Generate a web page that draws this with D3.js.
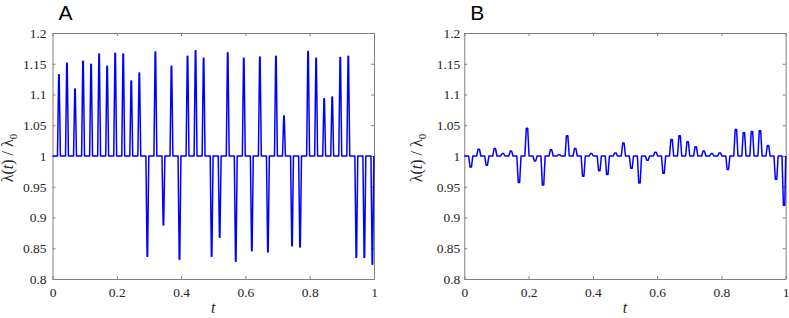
<!DOCTYPE html>
<html>
<head>
<meta charset="utf-8">
<title>lambda ratio</title>
<style>
  body { margin: 0; background: #fff; }
  svg { display: block; }
</style>
</head>
<body>
<div id="container"></div>
<script src="https://d3js.org/d3.v7.min.js"></script>
<script>

// time of each event slot (40 slots)
const slotTimes = [0.02, 0.045, 0.07, 0.095, 0.12, 0.145, 0.17, 0.195, 0.22, 0.245,
                   0.27, 0.295, 0.32, 0.345, 0.37, 0.395, 0.42, 0.445, 0.47, 0.495,
                   0.52, 0.545, 0.57, 0.595, 0.62, 0.645, 0.67, 0.695, 0.72, 0.745,
                   0.77, 0.795, 0.82, 0.845, 0.87, 0.895, 0.92, 0.945, 0.97, 0.995];

// lambda(t)/lambda0 at each slot, panel A
const ratioA = [1.132, 1.151, 1.109, 1.154, 1.149, 1.166, 1.146, 1.167, 1.166, 1.122,
                1.135, 0.837, 1.169, 0.888, 1.146, 0.832, 1.162, 1.171, 1.159, 0.837,
                0.868, 1.168, 0.829, 1.159, 0.846, 1.161, 0.844, 1.162, 1.065, 0.854,
                0.852, 1.170, 1.159, 1.093, 1.096, 1.160, 1.162, 0.835, 0.835, 0.824];

// panel B
const ratioB = [0.982, 1.011, 0.985, 1.012, 1.004, 1.008, 0.957, 1.045, 0.992, 0.953,
                1.010, 1.002, 1.033, 1.012, 0.967, 1.004, 0.976, 0.970, 1.005, 1.021,
                0.980, 0.956, 0.993, 1.006, 0.972, 1.027, 1.033, 1.023, 1.015, 1.008,
                1.004, 1.005, 0.978, 1.043, 1.038, 1.040, 1.041, 1.017, 0.962, 0.920];

const xTicks = [0, 0.2, 0.4, 0.6, 0.8, 1];
const yTicks = [0.8, 0.85, 0.9, 0.95, 1, 1.05, 1.1, 1.15, 1.2];
const baseline = 1;

const width = 789;
const height = 318;
const plotTop = 33, plotBottom = 279;

const panels = [
  {letter: "A", values: ratioA, left: 52.5, right: 374, halfBase: 0.0045, halfTop: 0.0008, labelPad: 6, ylabX: 13},
  {letter: "B", values: ratioB, left: 464.3, right: 785.7, halfBase: 0.0065, halfTop: 0.0022, labelPad: 4, ylabX: 422}
];

const svg = d3.select("#container")
  .append("svg")
  .attr("width", width)
  .attr("height", height);

const axisColor = "#808080";
const textColor = "#262626";
const serif = "'Liberation Serif', 'Times New Roman', serif";

// turn the slot values into a pulse train
const pulseLine = (p) => {
  const pts = [[0, baseline]];
  slotTimes.forEach((t, i) => {
    const v = p.values[i];
    pts.push([t - p.halfBase, baseline]);
    pts.push([t - p.halfTop, v]);
    pts.push([Math.min(t + p.halfTop, 1), v]);
    pts.push([Math.min(t + p.halfBase, 1), baseline]);
  });
  return pts;
};

panels.forEach(p => {
  const x = d3.scaleLinear().domain([0, 1]).range([p.left, p.right]);
  const y = d3.scaleLinear().domain([0.8, 1.2]).range([plotBottom, plotTop]);

  const g = svg.append("g");

  const styleAxis = sel => {
    sel.select(".domain").attr("stroke", axisColor).attr("stroke-width", 1);
    sel.selectAll(".tick line").attr("stroke", axisColor);
    sel.selectAll(".tick text")
      .attr("fill", textColor)
      .style("font-family", serif)
      .style("font-size", "13.5px");
  };

  g.append("g")
    .attr("transform", `translate(0,${plotBottom})`)
    .call(d3.axisBottom(x).tickValues(xTicks).tickSizeInner(-3).tickSizeOuter(0)
      .tickPadding(8).tickFormat(d3.format("")))
    .call(styleAxis);

  g.append("g")
    .attr("transform", `translate(0,${plotTop})`)
    .call(d3.axisTop(x).tickValues(xTicks).tickSizeInner(-3).tickSizeOuter(0).tickFormat(""))
    .call(styleAxis);

  g.append("g")
    .attr("transform", `translate(${p.left},0)`)
    .call(d3.axisLeft(y).tickValues(yTicks).tickSizeInner(-3).tickSizeOuter(0)
      .tickPadding(p.labelPad).tickFormat(d3.format("")))
    .call(styleAxis);

  g.append("g")
    .attr("transform", `translate(${p.right},0)`)
    .call(d3.axisRight(y).tickValues(yTicks).tickSizeInner(-3).tickSizeOuter(0).tickFormat(""))
    .call(styleAxis);

  const line = d3.line()
    .x(d => x(d[0]))
    .y(d => y(d[1]));

  g.append("path")
    .attr("d", line(pulseLine(p)))
    .attr("fill", "none")
    .attr("stroke", "#0000ff")
    .attr("stroke-width", 1.5)
    .attr("stroke-linejoin", "round");

  // x label
  g.append("text")
    .attr("x", (p.left + p.right) / 2)
    .attr("y", 313)
    .attr("text-anchor", "middle")
    .attr("fill", textColor)
    .style("font-family", serif)
    .style("font-style", "italic")
    .style("font-size", "16px")
    .text("t");

  // y label
  const yl = g.append("text")
    .attr("transform", `translate(${p.ylabX},158) rotate(-90)`)
    .attr("text-anchor", "middle")
    .attr("fill", textColor)
    .style("font-family", serif)
    .style("font-size", "16px");
  yl.append("tspan").text("λ(");
  yl.append("tspan").style("font-style", "italic").text("t");
  yl.append("tspan").text(") / λ");
  yl.append("tspan").attr("dy", 4).style("font-size", "11px").text("0");

  // panel letter
  svg.append("text")
    .attr("x", p.left + 6)
    .attr("y", 20)
    .attr("fill", "#000")
    .style("font-family", "'Liberation Sans', Arial, sans-serif")
    .style("font-size", "21px")
    .text(p.letter);
});

</script>
</body>
</html>
